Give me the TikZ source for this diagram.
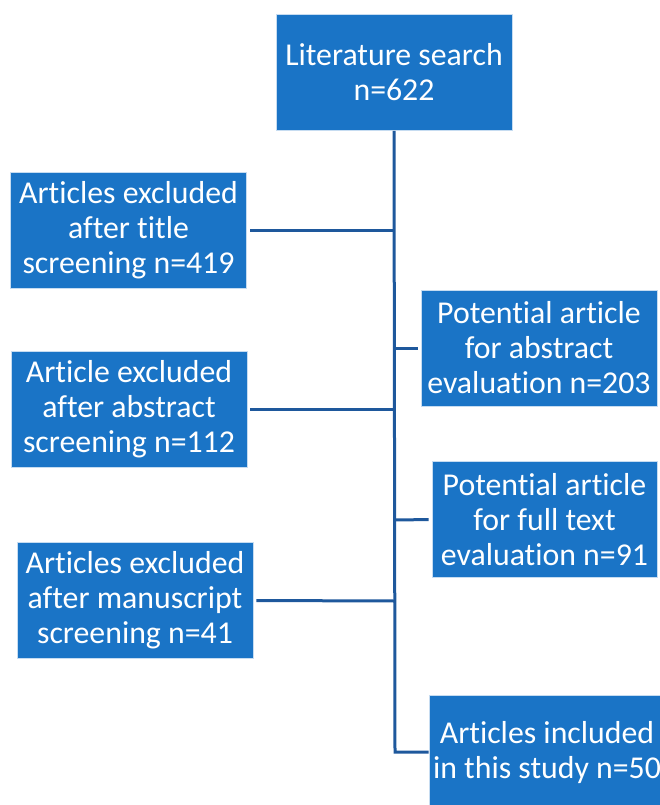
\documentclass[tikz,border=0pt]{standalone}
\usepackage{fontspec}
\setmainfont[Ligatures=NoCommon]{Carlito}
\usetikzlibrary{positioning}
\definecolor{boxblue}{RGB}{26,116,198}
\definecolor{lineblue}{RGB}{30,88,156}

\begin{document}
\begin{tikzpicture}[
    x=1pt, y=-1pt,
    box/.style={
        draw=white!75!boxblue,
        line width=0.8pt,
        fill=boxblue,
        text=white,
        minimum width=236pt,
        minimum height=116pt,
        inner sep=0pt,
        align=center,
        font=\fontsize{31.8}{35}\selectfont
    },
    link/.style={
        draw=lineblue,
        line width=3pt
    }
]
\clip (0,0) rectangle (660,805);

% ============================================================
% Main column
% ============================================================

\node[box] (search) at (394,72.5)
{Literature search\\n=622};

\node[box] (abstract) at (539,348)
{Potential article\\for abstract\\evaluation n=203};

\node[box, minimum width=225pt] (fulltext) at (544.5,519.5)
{Potential article\\for full text\\evaluation n=91};

\node[box] (included) at (547,753)
{Articles included\\in this study n=50};

% ============================================================
% Exclusions
% ============================================================

\node[box] (excltitle) at (128.5,230)
{Articles excluded\\after title\\screening n=419};

\node[box] (exclabstract) at (129,409)
{Article excluded\\after abstract\\screening n=112};

\node[box] (exclms) at (135,600.5)
{Articles excluded\\after manuscript\\screening n=41};

% ============================================================
% Trunk and branches
% ============================================================

\coordinate (jtitle) at (395,230);
\coordinate (jabstract) at (395,348);
\coordinate (jexclabs) at (395,409);
\coordinate (jfull) at (395,520);
\coordinate (jms) at (395,601);
\coordinate (jend) at (395,752);

\draw[link] (search.south) -- (jend) -- (jend -| included.west);

\draw[link, shorten >=3pt] (jtitle) -- (excltitle.east);
\draw[link, shorten >=3pt] (jabstract) -- (abstract.west);
\draw[link, shorten >=3pt] (jexclabs) -- (exclabstract.east);
\draw[link, shorten >=3pt] (jfull) -- (fulltext.west);
\draw[link, shorten >=3pt] (jms) -- (exclms.east);

\end{tikzpicture}
\end{document}
